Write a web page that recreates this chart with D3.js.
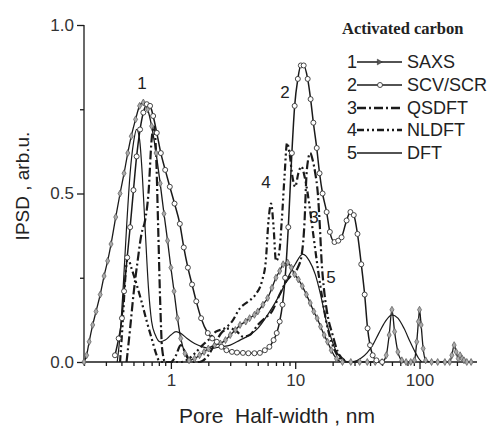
<!DOCTYPE html>
<html><head><meta charset="utf-8">
<script src="https://cdn.jsdelivr.net/npm/d3@7/dist/d3.min.js"></script>
<style>body{margin:0;background:#fff}svg{display:block}</style>
</head><body><svg id="c" width="492" height="427"></svg>
<script>
const xTickValues = [1, 10, 100];
const xTickLabels = ["1", "10", "100"];
const yTickValues = [0, 0.5, 1.0];
const yTickLabels = ["0.0", "0.5", "1.0"];
const seriesNames = ["SAXS", "SCV/SCR", "QSDFT", "NLDFT", "DFT"];
const seriesNums = ["1", "2", "3", "4", "5"];

const saxsX = [0.2,0.21,0.22,0.235,0.25,0.27,0.29,0.31,0.33,0.36,0.39,0.42,0.45,0.48,0.52,0.56,0.6,0.65,0.7,0.76,0.82,0.88,0.94,1.0,1.06,1.13,1.2,1.3,1.4,1.55,1.7,1.85,2.0,2.25,2.5,2.75,3.0,3.3,3.6,4.0,4.3,4.7,5.0,5.5,6.0,6.5,7.0,7.5,8.0,8.7,9.3,9.9,10.6,11.4,12.3,13.2,14.1,15.0,16.0,17.1,18.2,19.5,21.5,24,28,33,38,44,50,54,57,60,63,67,72,78,85,91,95,98,100,103,107,112,125,140,160,175,182,190,197,205,212,220,228,240,260];
const saxsY = [0,0.02,0.06,0.11,0.15,0.20,0.255,0.30,0.35,0.43,0.50,0.56,0.62,0.67,0.72,0.76,0.77,0.75,0.70,0.62,0.53,0.44,0.36,0.28,0.21,0.13,0.07,0.025,0.005,0.01,0.02,0.03,0.04,0.05,0.055,0.065,0.08,0.095,0.11,0.12,0.13,0.14,0.15,0.17,0.19,0.22,0.25,0.27,0.29,0.295,0.28,0.26,0.245,0.225,0.2,0.175,0.15,0.13,0.105,0.08,0.06,0.035,0.01,0,0,0,0,0,0,0.02,0.08,0.155,0.09,0.03,0.005,0,0,0.005,0.06,0.12,0.155,0.11,0.04,0.005,0,0,0,0,0.02,0.05,0.03,0.01,0.02,0.01,0.005,0,0];

const scvX = [0.355,0.38,0.404,0.42,0.445,0.47,0.5,0.53,0.565,0.6,0.64,0.68,0.72,0.77,0.83,0.9,0.98,1.07,1.18,1.27,1.37,1.48,1.6,1.75,1.98,2.15,2.34,2.55,2.8,3.1,3.4,3.8,4.2,4.7,5.2,5.7,6.2,6.7,7.1,7.5,7.9,8.3,8.8,9.4,9.9,10.5,11.1,11.7,12.6,13.3,14.0,14.9,15.7,16.6,17.9,19.0,20.7,22.2,23.6,25.9,27.8,29.6,31.7,34.0,36.2,38.2,40,42,45,50];
const scvY = [0.02,0.07,0.13,0.21,0.31,0.40,0.51,0.61,0.69,0.74,0.765,0.76,0.73,0.68,0.62,0.57,0.52,0.47,0.41,0.34,0.28,0.23,0.18,0.13,0.086,0.07,0.06,0.045,0.035,0.03,0.028,0.027,0.026,0.026,0.027,0.035,0.045,0.065,0.086,0.12,0.17,0.25,0.40,0.62,0.76,0.84,0.88,0.88,0.84,0.78,0.71,0.635,0.56,0.50,0.445,0.386,0.356,0.36,0.37,0.42,0.445,0.436,0.38,0.29,0.2,0.1,0.05,0.02,0.005,0];

const qsdftX = [0.44,0.47,0.5,0.54,0.58,0.62,0.66,0.7,0.73,0.76,0.79,0.82,0.85,0.9,1.0,1.1,1.2,1.3,1.45,1.7,2.0,2.3,2.6,3.0,3.4,3.8,4.3,5.0,5.7,6.5,7.5,8.5,9.5,10.5,11.3,11.9,12.3,12.7,13.2,13.8,14.5,15.2,15.8,16.3,17,18,20,22,25];
const qsdftY = [0,0.1,0.2,0.3,0.38,0.42,0.5,0.66,0.70,0.62,0.4,0.18,0.04,0,0,0.02,0.05,0.03,0,0,0.02,0.06,0.09,0.1,0.09,0.075,0.08,0.11,0.13,0.15,0.2,0.24,0.26,0.28,0.32,0.42,0.55,0.6,0.62,0.6,0.56,0.5,0.4,0.3,0.22,0.15,0.08,0.03,0.005];

const nldftX = [0.39,0.41,0.43,0.45,0.48,0.53,0.58,0.64,0.7,0.76,0.8,0.86,1.0,1.2,1.4,1.6,1.8,2.0,2.3,2.7,3.1,3.6,4.2,4.8,5.4,5.8,6.1,6.4,6.7,7.0,7.4,7.8,8.2,8.6,9.0,9.5,10.0,10.6,11.2,11.9,12.6,13.4,14.3,15.3,16.5,18,20,23,27];
const nldftY = [0,0.12,0.25,0.31,0.28,0.23,0.18,0.12,0.07,0.025,0.005,0,0,0,0.01,0.03,0.05,0.065,0.09,0.1,0.12,0.16,0.18,0.2,0.24,0.3,0.42,0.47,0.4,0.3,0.32,0.42,0.55,0.65,0.62,0.55,0.52,0.56,0.58,0.55,0.5,0.43,0.35,0.27,0.19,0.11,0.05,0.01,0];

const dftX = [0.37,0.39,0.41,0.44,0.47,0.5,0.53,0.56,0.59,0.62,0.66,0.7,0.75,0.82,0.9,1.0,1.1,1.2,1.35,1.55,1.8,2.1,2.5,3.0,3.6,4.3,5.0,6.0,7.0,8.0,9.0,10.0,11.5,13.0,14.5,16.0,17.8,19.5,21.5,24,27,30,34,38,42,47,53,60,67,75,84,92,98,104];
const dftY = [0,0.08,0.2,0.4,0.56,0.65,0.69,0.66,0.55,0.4,0.22,0.12,0.08,0.06,0.065,0.08,0.09,0.085,0.07,0.055,0.045,0.04,0.045,0.05,0.065,0.08,0.1,0.14,0.18,0.22,0.26,0.29,0.32,0.3,0.26,0.2,0.12,0.07,0.03,0.008,0,0.002,0.012,0.028,0.05,0.085,0.12,0.14,0.13,0.1,0.06,0.03,0.012,0];

const svg = d3.select("#c");
const x = d3.scaleLog().domain([0.2, 290]).range([84, 477]);
const y = d3.scaleLinear().domain([0, 1]).range([362, 25]);
const ink = "#1a1a1a";

// axes
const xAxisG = svg.append("g").attr("transform", "translate(0,362)");
const minor = [];
[0.1, 1, 10, 100].forEach(d => { for (let k = 2; k <= 9; k++) { const v = d * k; if (v >= 0.2 && v <= 290 && ![1,10,100].includes(v)) minor.push(v); } });
xAxisG.append("g").call(d3.axisBottom(x).tickValues(minor).tickSize(4).tickFormat("")).call(g => g.select(".domain").remove());
xAxisG.append("g").call(d3.axisBottom(x).tickValues(xTickValues).tickSize(7).tickPadding(5).tickFormat((d, i) => xTickLabels[i]))
  .call(g => g.select(".domain").attr("d", "M84,0H477"));
xAxisG.selectAll("line,path").attr("stroke", ink).attr("stroke-width", 1.3);
xAxisG.selectAll("text").attr("font-family", "Arial, 'Liberation Sans', sans-serif").attr("font-size", 17).attr("fill", "#333");

const yAxisG = svg.append("g").attr("transform", "translate(84,0)");
yAxisG.append("g").call(d3.axisLeft(y).tickValues([0.25, 0.75]).tickSize(4).tickFormat("")).call(g => g.select(".domain").remove());
yAxisG.append("g").call(d3.axisLeft(y).tickValues(yTickValues).tickSize(7).tickPadding(3).tickFormat((d, i) => yTickLabels[i]))
  .call(g => g.select(".domain").attr("d", "M0,362V25"));
yAxisG.selectAll("line,path").attr("stroke", ink).attr("stroke-width", 1.3);
yAxisG.selectAll("text").attr("font-family", "Arial, 'Liberation Sans', sans-serif").attr("font-size", 17).attr("fill", "#333");

// axis titles
svg.append("text").attr("x", 277).attr("y", 423).attr("text-anchor", "middle")
  .attr("font-family", "Arial, 'Liberation Sans', sans-serif").attr("font-size", 21).attr("fill", "#222")
  .attr("xml:space", "preserve").text("Pore  Half-width , nm");
svg.append("text").attr("transform", "translate(29,186) rotate(-90)").attr("text-anchor", "middle")
  .attr("font-family", "Arial, 'Liberation Sans', sans-serif").attr("font-size", 19).attr("fill", "#222")
  .attr("xml:space", "preserve").text("IPSD , arb.u.");

const line = d3.line().x(d => x(d[0])).y(d => y(d[1])).curve(d3.curveMonotoneX);
const zip = (a, b) => a.map((v, i) => [v, b[i]]);

const series = [
  {xs: saxsX, ys: saxsY, dash: null, w: 1.3, marker: "diamond"},
  {xs: scvX, ys: scvY, dash: null, w: 1.5, marker: "circle"},
  {xs: qsdftX, ys: qsdftY, dash: "9,3,2,3", w: 2.2, marker: null},
  {xs: nldftX, ys: nldftY, dash: "7,3,2,3,2,3", w: 2.2, marker: null},
  {xs: dftX, ys: dftY, dash: null, w: 1.2, marker: null}
];
const plot = svg.append("g");
series.forEach(s => {
  plot.append("path").datum(zip(s.xs, s.ys)).attr("d", line).attr("fill", "none")
    .attr("stroke", ink).attr("stroke-width", s.w).attr("stroke-dasharray", s.dash);
});
series.forEach(s => {
  const pts = zip(s.xs, s.ys);
  if (s.marker === "diamond") {
    plot.selectAll(null).data(pts).join("path")
      .attr("transform", d => `translate(${x(d[0])},${y(d[1])})`)
      .attr("d", d3.symbol(d3.symbolDiamond, 14)).attr("fill", "#aaa").attr("stroke", "#555").attr("stroke-width", 0.7);
  } else if (s.marker === "circle") {
    plot.selectAll(null).data(pts).join("circle")
      .attr("cx", d => x(d[0])).attr("cy", d => y(d[1])).attr("r", 2.5)
      .attr("fill", "#fff").attr("stroke", "#333").attr("stroke-width", 0.9);
  }
});

// curve labels
const labelFont = "Arial, 'Liberation Sans', sans-serif";
const curveLabels = [["1", 142, 89], ["2", 285, 98], ["4", 266, 188], ["3", 314, 223], ["5", 331, 283]];
curveLabels.forEach(([t, lx, ly]) => svg.append("text").attr("x", lx).attr("y", ly).attr("text-anchor", "middle")
  .attr("font-family", labelFont).attr("font-size", 17).attr("fill", "#222").text(t));

// legend
svg.append("text").attr("x", 342).attr("y", 34).attr("font-family", "'Liberation Serif', 'Times New Roman', serif")
  .attr("font-weight", "bold").attr("font-size", 16.5).attr("fill", "#222").text("Activated carbon");
const rowY = [62, 85, 108, 130, 153];
series.forEach((s, i) => {
  const ry = rowY[i];
  svg.append("text").attr("x", 347).attr("y", ry + 6).attr("font-family", labelFont).attr("font-size", 18).attr("fill", "#222").text(seriesNums[i]);
  svg.append("line").attr("x1", 357).attr("x2", 402).attr("y1", ry).attr("y2", ry)
    .attr("stroke", ink).attr("stroke-width", s.w + 0.2).attr("stroke-dasharray", s.dash);
  if (s.marker === "diamond") {
    svg.append("path").attr("d", d3.symbol(d3.symbolTriangle, 14))
      .attr("transform", `translate(379,${ry}) rotate(90)`).attr("fill", "#555").attr("stroke", "#333").attr("stroke-width", 0.6);
  } else if (s.marker === "circle") {
    svg.append("circle").attr("cx", 380).attr("cy", ry).attr("r", 2.5).attr("fill", "#fff").attr("stroke", "#333").attr("stroke-width", 0.9);
  }
  svg.append("text").attr("x", 407).attr("y", ry + 6).attr("font-family", labelFont).attr("font-size", 18).attr("fill", "#222").text(seriesNames[i]);
});
</script></body></html>
